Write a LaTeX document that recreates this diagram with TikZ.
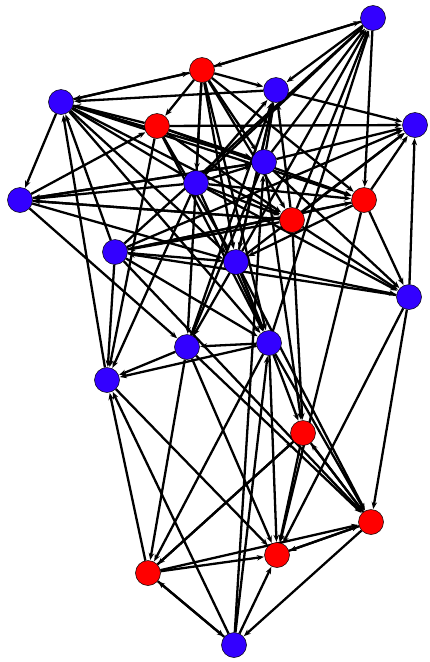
\documentclass[tikz,border=0pt]{standalone}
\usetikzlibrary{arrows.meta}
\definecolor{nblue}{RGB}{51,0,255}
\definecolor{nred}{RGB}{255,0,0}
\begin{document}
\begin{tikzpicture}[x=1pt,y=-1pt,
  vb/.style={circle,draw=black,line width=0.5pt,fill=nblue,minimum size=25pt,inner sep=0pt},
  vr/.style={circle,draw=black,line width=0.5pt,fill=nred,minimum size=25pt,inner sep=0pt},
  ed/.style={line width=2.3pt,-{Stealth[length=7pt,width=5.5pt]},shorten >=0.5pt}]
\useasboundingbox (0,0) rectangle (429,662);
\fill[white] (0,0) rectangle (429,662);
\coordinate (p1) at (373,18);
\coordinate (p2) at (202,70);
\coordinate (p3) at (276,90);
\coordinate (p4) at (61,102);
\coordinate (p5) at (157,126);
\coordinate (p6) at (415,125);
\coordinate (p7) at (264,162);
\coordinate (p8) at (196,183);
\coordinate (p9) at (364,200);
\coordinate (p10) at (20,200);
\coordinate (p11) at (292,220);
\coordinate (p12) at (115,252);
\coordinate (p13) at (236,262);
\coordinate (p14) at (409,297);
\coordinate (p15) at (187,347);
\coordinate (p16) at (269,343);
\coordinate (p17) at (107,380);
\coordinate (p18) at (303,433);
\coordinate (p19) at (371,522);
\coordinate (p20) at (277,555);
\coordinate (p21) at (148,573);
\coordinate (p22) at (234,645);
\foreach \i in {1,...,22} \node[circle,minimum size=25pt,inner sep=0pt] (n\i) at (p\i) {};
\foreach \a/\b in {
 2/1,1/2,1/3,7/1,8/1,11/1,13/1,16/1,12/1,1/9,
 2/4,4/2,2/3,2/5,2/7,2/11,2/9,2/8,2/13,2/16,2/15,
 3/4,3/6,7/3,8/3,11/3,13/3,15/3,
 5/4,4/10,4/7,4/11,4/9,4/13,4/16,17/4,12/4,4/8,
 5/6,5/11,5/9,5/7,5/16,10/5,5/13,
 8/10,7/10,11/10,10/15,10/13,10/7,10/11,
 7/6,11/6,13/6,12/6,14/6,9/6,
 11/12,9/12,12/9,14/12,8/7,8/11,8/9,8/16,3/13,7/15,
 9/14,11/14,13/14,7/14,8/14,
 14/19,14/20,9/20,9/13,12/16,13/16,13/15,
 15/17,16/17,16/15,21/17,22/17,
 16/18,7/18,11/18,
 16/19,13/19,12/19,15/19,
 18/20,21/18,18/19,19/18,
 19/22,19/20,20/19,21/19,
 21/20,21/22,22/21,22/7,22/16,22/20,
 17/20,15/20,16/20,15/21,16/21,18/21,12/17,8/17,5/17,12/13}
 \draw[ed] (n\a) -- (n\b);
\foreach \i in {1,3,4,6,7,8,10,12,13,14,15,16,17,22} \node[vb] at (p\i) {};
\foreach \i in {2,5,9,11,18,19,20,21} \node[vr] at (p\i) {};
\end{tikzpicture}
\end{document}
